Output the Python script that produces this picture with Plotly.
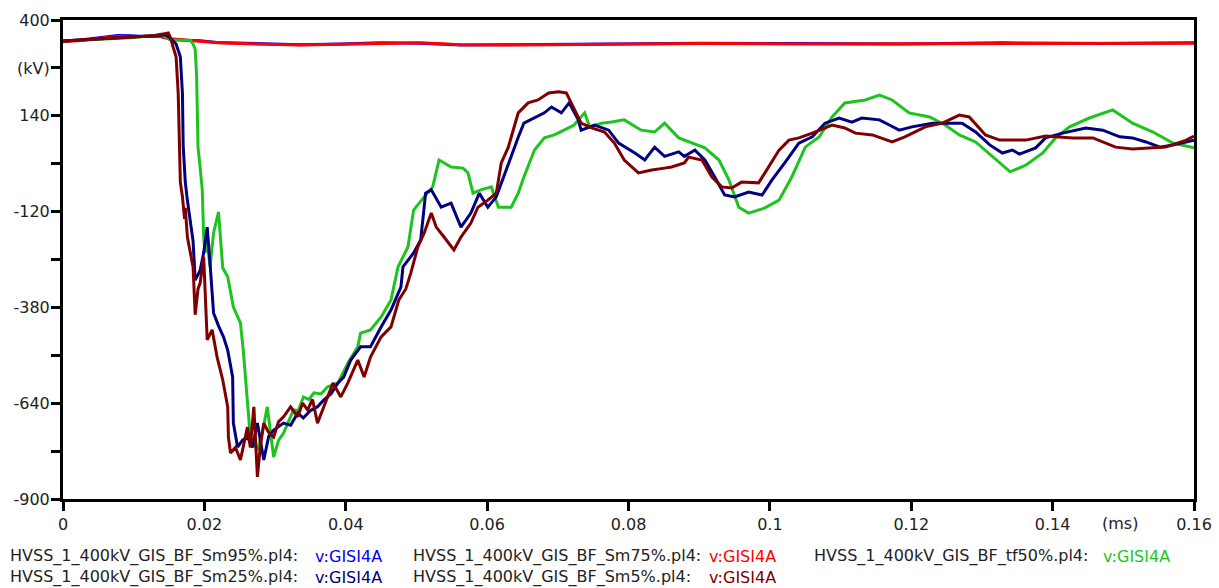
import plotly.graph_objects as go

# ---- time axis (ms) and voltages (kV) per simulation case ----
t_sm95 = [0.0, 0.0024, 0.0052, 0.0077, 0.0095, 0.0116, 0.0138, 0.0152, 0.0173, 0.0194, 0.0218,
          0.0251, 0.0294, 0.0336, 0.0393, 0.0450, 0.0506, 0.0563, 0.0620, 0.0691, 0.0762,
          0.0904, 0.1045, 0.1187, 0.1329, 0.1471, 0.16]
v_sm95 = [343, 346, 352, 358, 357, 355, 356, 348, 345, 344, 339,
          337, 334, 333, 335, 338, 337, 332, 333, 334, 333,
          337, 336, 335, 338, 336, 338]

t_sm75 = [0.0, 0.0024, 0.0052, 0.0077, 0.0095, 0.0116, 0.0138, 0.0152, 0.0173, 0.0194, 0.0218,
          0.0251, 0.0294, 0.0336, 0.0393, 0.0450, 0.0506, 0.0563, 0.0620, 0.0691, 0.0762,
          0.0904, 0.1045, 0.1187, 0.1329, 0.1471, 0.16]
v_sm75 = [341, 344, 350, 356, 354, 356, 355, 349, 346, 343, 338,
          336, 335, 332, 334, 337, 338, 333, 332, 333, 334,
          336, 335, 336, 337, 337, 337]

t_tf50 = [0.0, 0.0052, 0.0095, 0.0130, 0.0138, 0.0152, 0.0166, 0.0180, 0.0184, 0.0187, 0.0189,
          0.0190, 0.0191, 0.0194, 0.0197, 0.0199, 0.0201, 0.0204, 0.0208, 0.0213, 0.0220,
          0.0226, 0.0233, 0.0241, 0.0251, 0.0255, 0.0261, 0.0265, 0.0275, 0.0282, 0.0289,
          0.0298, 0.0305, 0.0312, 0.0319, 0.0326, 0.0333, 0.0340, 0.0348, 0.0355, 0.0365,
          0.0374, 0.0389, 0.0403, 0.0417, 0.0421, 0.0435, 0.0450, 0.0464, 0.0474, 0.0488,
          0.0496, 0.0511, 0.0523, 0.0532, 0.0549, 0.0566, 0.0573, 0.0580, 0.0591, 0.0606,
          0.0616, 0.0634, 0.0644, 0.0652, 0.0667, 0.0681, 0.0695, 0.0709, 0.0723, 0.0738,
          0.0745, 0.0762, 0.0776, 0.0794, 0.0818, 0.0837, 0.0851, 0.0871, 0.0889, 0.0908,
          0.0928, 0.0942, 0.0956, 0.0970, 0.0993, 0.1013, 0.1031, 0.1050, 0.1070, 0.1088,
          0.1106, 0.1135, 0.1155, 0.1173, 0.1197, 0.1226, 0.1248, 0.1268, 0.1291, 0.1315,
          0.1340, 0.1362, 0.1386, 0.1404, 0.1424, 0.1452, 0.1485, 0.1513, 0.1542, 0.1570,
          0.16]
v_tf50 = [343, 348, 352, 358, 362, 346, 346, 345, 335, 320, 250,
          150, 55, 0, -60, -189, -232, -200, -270, -178, -121,
          -273, -297, -379, -422, -496, -650, -732, -767, -720, -650,
          -786, -740, -721, -690, -658, -660, -623, -630, -612, -615,
          -596, -585, -531, -487, -450, -441, -406, -360, -270, -216,
          -116, -80, -53, 20, 1, -2, -15, -70, -61, -53,
          -108, -108, -70, -26, 47, 80, 88, 101, 115, 148,
          110, 120, 123, 129, 101, 96, 120, 80, 66, 53,
          20, -34, -108, -124, -110, -89, -26, 55, 83, 137,
          175, 183, 196, 183, 148, 137, 115, 88, 69, 28,
          -12, 6, 39, 80, 110, 134, 156, 120, 96, 66,
          53]

t_sm25 = [0.0, 0.0052, 0.0095, 0.0130, 0.0145, 0.0152, 0.0160, 0.0166, 0.0169, 0.0170, 0.0173,
          0.0176, 0.0180, 0.0184, 0.0187, 0.0194, 0.0199, 0.0204, 0.0208, 0.0213, 0.0220,
          0.0227, 0.0233, 0.0240, 0.0241, 0.0247, 0.0254, 0.0261, 0.0268, 0.0275, 0.0284,
          0.0291, 0.0298, 0.0312, 0.0322, 0.0332, 0.0340, 0.0350, 0.0360, 0.0369, 0.0379,
          0.0389, 0.0397, 0.0407, 0.0421, 0.0435, 0.0450, 0.0464, 0.0478, 0.0481, 0.0496,
          0.0506, 0.0513, 0.0521, 0.0535, 0.0549, 0.0563, 0.0577, 0.0589, 0.0601, 0.0613,
          0.0623, 0.0634, 0.0644, 0.0652, 0.0667, 0.0681, 0.0691, 0.0705, 0.0716, 0.0729,
          0.0733, 0.0752, 0.0772, 0.0786, 0.0809, 0.0823, 0.0837, 0.0851, 0.0871, 0.0879,
          0.0894, 0.0908, 0.0922, 0.0936, 0.0950, 0.0970, 0.0989, 0.1003, 0.1021, 0.1041,
          0.1060, 0.1078, 0.1098, 0.1116, 0.1130, 0.1155, 0.1169, 0.1183, 0.1201, 0.1230,
          0.1272, 0.1291, 0.1311, 0.1329, 0.1343, 0.1353, 0.1376, 0.1390, 0.1414, 0.1447,
          0.1471, 0.1495, 0.1513, 0.1532, 0.1552, 0.1570, 0.16]
v_sm25 = [343, 350, 354, 357, 360, 350, 335, 300, 200, 60, -40,
          -90, -143, -200, -306, -280, -232, -162, -260, -395, -430,
          -460, -496, -569, -694, -759, -740, -732, -760, -694, -794,
          -730, -713, -694, -700, -667, -680, -660, -650, -631, -615,
          -585, -569, -523, -487, -487, -433, -387, -325, -270, -232,
          -197, -70, -61, -108, -97, -162, -124, -70, -108, -80,
          -26, 28, 82, 120, 134, 148, 164, 148, 175, 129,
          101, 115, 101, 66, 39, 20, 55, 30, 42, 30,
          47, 20, -26, -75, -80, -67, -75, -34, 12, 66,
          83, 120, 134, 123, 134, 129, 115, 101, 110, 120,
          120, 96, 61, 39, 47, 36, 53, 80, 93, 107,
          101, 83, 80, 69, 55, 61, 74]

t_sm5 = [0.0, 0.0052, 0.0095, 0.0130, 0.0149, 0.0152, 0.0156, 0.0160, 0.0163, 0.0165, 0.0166,
         0.0169, 0.0172, 0.0173, 0.0176, 0.0180, 0.0184, 0.0187, 0.0191, 0.0194, 0.0199,
         0.0204, 0.0211, 0.0218, 0.0226, 0.0233, 0.0234, 0.0237, 0.0244, 0.0251, 0.0257,
         0.0261, 0.0265, 0.0270, 0.0275, 0.0279, 0.0284, 0.0291, 0.0298, 0.0305, 0.0312,
         0.0322, 0.0332, 0.0339, 0.0346, 0.0353, 0.0360, 0.0369, 0.0382, 0.0393, 0.0403,
         0.0417, 0.0426, 0.0435, 0.0450, 0.0464, 0.0475, 0.0485, 0.0492, 0.0502, 0.0511,
         0.0521, 0.0528, 0.0539, 0.0553, 0.0563, 0.0577, 0.0587, 0.0601, 0.0613, 0.0620,
         0.0630, 0.0637, 0.0644, 0.0658, 0.0672, 0.0687, 0.0701, 0.0712, 0.0722, 0.0733,
         0.0748, 0.0766, 0.0780, 0.0794, 0.0814, 0.0833, 0.0851, 0.0861, 0.0879, 0.0885,
         0.0904, 0.0918, 0.0932, 0.0946, 0.0960, 0.0984, 0.0993, 0.1013, 0.1027, 0.1041,
         0.1060, 0.1088, 0.1106, 0.1121, 0.1145, 0.1173, 0.1191, 0.1220, 0.1244, 0.1258,
         0.1268, 0.1282, 0.1305, 0.1325, 0.1362, 0.1390, 0.1428, 0.1457, 0.1489, 0.1513,
         0.1542, 0.1560, 0.1589, 0.16]
v_sm5 = [343, 348, 352, 357, 365, 352, 325, 300, 200, 60, -40,
         -80, -140, -110, -190, -230, -270, -400, -330, -314, -243,
         -468, -441, -515, -577, -650, -732, -775, -760, -794, -740,
         -705, -760, -650, -840, -760, -694, -720, -732, -690, -677,
         -650, -677, -640, -658, -630, -694, -650, -585, -623, -585,
         -523, -569, -515, -460, -433, -360, -330, -287, -216, -178,
         -124, -162, -189, -224, -189, -151, -108, -89, -70, 12,
         55, 101, 148, 175, 183, 202, 205, 202, 164, 120,
         107, 96, 66, 20, -15, -7, -2, 1, 12, 28,
         20, -26, -53, -56, -40, -42, -15, 47, 74, 80,
         93, 115, 107, 93, 88, 69, 83, 110, 120, 134,
         142, 137, 88, 74, 74, 85, 80, 80, 55, 50,
         53, 55, 74, 85]

case_names = ["HVSS_1_400kV_GIS_BF_Sm95%.pl4:", "HVSS_1_400kV_GIS_BF_Sm75%.pl4:",
              "HVSS_1_400kV_GIS_BF_tf50%.pl4:", "HVSS_1_400kV_GIS_BF_Sm25%.pl4:",
              "HVSS_1_400kV_GIS_BF_Sm5%.pl4:"]
signal_name = "v:GISI4A"
case_colors = ["#0000FF", "#FF0000", "#1EC41E", "#000080", "#800000"]

x_ticks = [0, 0.02, 0.04, 0.06, 0.08, 0.1, 0.12, 0.14, 0.16]
x_tick_text = ["0", "0.02", "0.04", "0.06", "0.08", "0.1", "0.12", "0.14", "0.16"]
y_ticks = [400, 270, 140, 10, -120, -250, -380, -510, -640, -770, -900]
y_tick_text = ["400", "(kV)", "140", "", "-120", "", "-380", "", "-640", "", "-900"]

FONT = "DejaVu Sans"

fig = go.Figure()
series = [(t_sm95, v_sm95), (t_sm75, v_sm75), (t_tf50, v_tf50), (t_sm25, v_sm25), (t_sm5, v_sm5)]
for (t, v), name, col in zip(series, case_names, case_colors):
    fig.add_trace(go.Scatter(x=t, y=v, mode="lines", name=name,
                             line=dict(color=col, width=3), showlegend=False))

axis_common = dict(showgrid=False, zeroline=False, showline=True, linecolor="black",
                   linewidth=3, mirror=True, ticks="outside", ticklen=9, tickwidth=3,
                   tickcolor="black", automargin=False,
                   tickfont=dict(family=FONT, size=16, color="#222222"))
fig.update_xaxes(range=[0, 0.16], tickvals=x_ticks, ticktext=x_tick_text, **axis_common)
fig.update_yaxes(range=[-900, 400], tickvals=y_ticks, ticktext=y_tick_text,
                 ticklabelstandoff=-2, **axis_common)

# time unit label between the last two ticks
fig.add_annotation(x=0.1495, xref="x", y=0, yref="paper", yshift=-24, text="(ms)",
                   showarrow=False, xanchor="center", yanchor="middle",
                   font=dict(family=FONT, size=16, color="#222222"))

# two-row legend: file name in dark text, signal name in the case colour
legend_pos = [(8, 313, -57), (411, 707, -57), (812, 1101, -57), (8, 313, -78), (411, 707, -78)]
for (nx, sx, dy), name, col in zip(legend_pos, case_names, case_colors):
    fig.add_annotation(x=0, xref="paper", xshift=nx - 63, y=0, yref="paper", yshift=dy,
                       text=name, showarrow=False, xanchor="left", yanchor="middle",
                       font=dict(family=FONT, size=16, color="#222222"))
    fig.add_annotation(x=0, xref="paper", xshift=sx - 63, y=0, yref="paper", yshift=dy,
                       text=signal_name, showarrow=False, xanchor="left", yanchor="middle",
                       font=dict(family=FONT, size=16, color=col))

fig.update_layout(width=1219, height=588, margin=dict(l=63, r=25, t=20, b=89),
                  plot_bgcolor="white", paper_bgcolor="white")

fig.write_html("out.html")
